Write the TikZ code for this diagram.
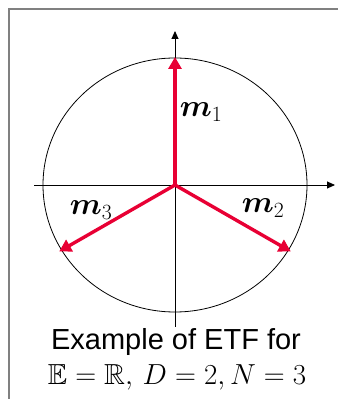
\documentclass[tikz,border=0pt]{standalone}
\usepackage{amsmath,amssymb,bm}
\usepackage{anyfontsize}
\usepackage{fontspec}
\setmainfont{Liberation Sans}
\usetikzlibrary{arrows.meta}
\definecolor{vecred}{RGB}{232,0,52}
\definecolor{framegray}{RGB}{128,128,128}
\tikzset{
  axis/.style={line width=0.9pt,-{Triangle[length=8pt,width=7pt]}},
  vec/.style={vecred,line width=3.4pt,-{Triangle[length=12pt,width=13pt]},shorten >=-1pt},
  vlabel/.style={font=\fontsize{31}{34}\selectfont},
  caption/.style={font=\fontsize{29}{32}\selectfont,align=center}
}
\begin{document}
\begin{tikzpicture}[x=1pt,y=1pt]
\useasboundingbox (0,0) rectangle (338,399);
\draw[framegray,line width=1.5pt] (9,0) -- (9,390) -- (338,390);
\coordinate (O) at (175,214);
\coordinate (xl) at (34,214);
\coordinate (xr) at (335,214);
\coordinate (yb) at (175,72);
\coordinate (yt) at (175,368);
\draw[line width=0.8pt] (O) ellipse [x radius=132, y radius=127];
\draw[axis] (xl) -- (xr);
\draw[axis] (yb) -- (yt);
\coordinate (m1) at (175,341);
\coordinate (m2) at (290,148);
\coordinate (m3) at (60,148);
\draw[vec] (O) -- (m1);
\draw[vec] (O) -- (m2);
\draw[vec] (O) -- (m3);
\node[vlabel] (l1) at (201,287) {$\boldsymbol{m}_1$};
\node[vlabel] (l2) at (263,191) {$\boldsymbol{m}_2$};
\node[vlabel] (l3) at (91,189) {$\boldsymbol{m}_3$};
\node[caption] (c1) at (176,57) {Example of ETF for};
\node[caption] (c2) at (177,22) {$\mathbb{E}=\mathbb{R},\, D=2,N=3$};
\end{tikzpicture}
\end{document}
